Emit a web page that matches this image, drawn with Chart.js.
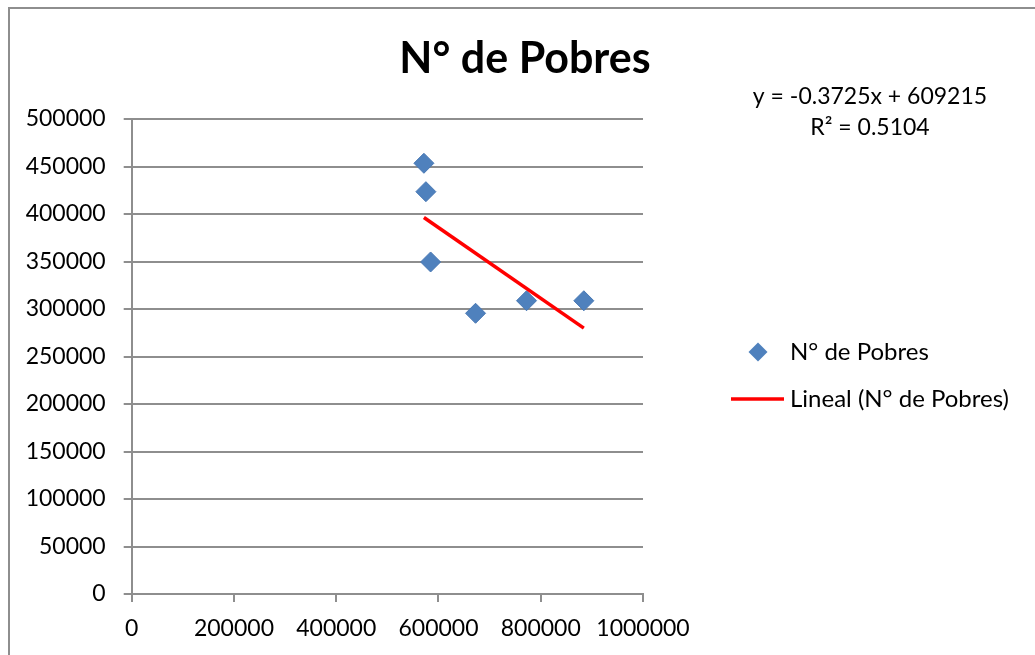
<!DOCTYPE html>
<html>
<head>
<meta charset="utf-8">
<title>N° de Pobres</title>
<script src="https://cdn.jsdelivr.net/npm/chart.js@4.4.1/dist/chart.umd.min.js"></script>
<style>
    html, body { margin: 0; padding: 0; background: #fff; }
    #wrap { width: 1035px; height: 655px; }
</style>
</head>
<body>
<div id="wrap"><canvas id="grafico" width="1035" height="655"></canvas></div>
<script>
"use strict";

const chart_title = "N° de Pobres";
const series_name = "N° de Pobres";
const trend_name = "Lineal (N° de Pobres)";

// puntos
const x_values = [571500, 575400, 584600, 672500, 772200, 884300];
const y_values = [453400, 423500, 349500, 295500, 308700, 308700];

// línea de tendencia (la que muestra Excel)
const trend_slope = -0.3725;
const trend_intercept = 609215;
const trend_r2 = 0.5104;

const x_ticks = [0, 200000, 400000, 600000, 800000, 1000000];
const y_ticks = [0, 50000, 100000, 150000, 200000, 250000, 300000, 350000, 400000, 450000, 500000];

const blue = '#4f81bd';
const red = '#ff0000';
const grid_gray = '#8e8e8e';

Chart.defaults.font.family = "Lato, 'Liberation Sans', sans-serif";
Chart.defaults.color = '#000';

let points = [];
for (let i = 0; i < x_values.length; i++) {
    points.push({ x: x_values[i], y: y_values[i] });
}

// extremos de la recta en el rango de los datos
const x_min = Math.min(...x_values);
const x_max = Math.max(...x_values);
const trend_points = [
    { x: x_min, y: trend_slope * x_min + trend_intercept },
    { x: x_max, y: trend_slope * x_max + trend_intercept }
];

// marco, título, ecuación y leyenda al estilo Excel
const excelDecor = {
    id: 'excelDecor',
    beforeDraw(chart) {
        const ctx = chart.ctx;
        ctx.save();
        ctx.fillStyle = '#fff';
        ctx.fillRect(0, 0, chart.width, chart.height);
        ctx.strokeStyle = grid_gray;
        ctx.lineWidth = 2;
        ctx.strokeRect(9, 8, 1100, 700);
        ctx.restore();
    },
    afterDraw(chart) {
        const ctx = chart.ctx;
        ctx.save();
        ctx.fillStyle = '#000';
        ctx.textBaseline = 'middle';

        ctx.textAlign = 'center';
        ctx.font = "bold 43px Lato, 'Liberation Sans', sans-serif";
        ctx.fillText(chart_title, 525, 59);

        ctx.font = "23px Lato, 'Liberation Sans', sans-serif";
        ctx.fillText("y = " + trend_slope + "x + " + trend_intercept, 870, 97);
        ctx.fillText("R² = " + trend_r2, 870, 128);

        // leyenda
        ctx.textAlign = 'left';
        ctx.font = "24px Lato, 'Liberation Sans', sans-serif";
        ctx.fillStyle = blue;
        ctx.beginPath();
        ctx.moveTo(758, 342.5);
        ctx.lineTo(767.5, 352);
        ctx.lineTo(758, 361.5);
        ctx.lineTo(748.5, 352);
        ctx.closePath();
        ctx.fill();
        ctx.fillStyle = '#000';
        ctx.fillText(series_name, 790, 352);

        ctx.strokeStyle = red;
        ctx.lineWidth = 3.5;
        ctx.beginPath();
        ctx.moveTo(731, 399);
        ctx.lineTo(784, 399);
        ctx.stroke();
        ctx.fillText(trend_name, 790, 399);
        ctx.restore();
    }
};

const ctx = document.getElementById("grafico");
const grafico = new Chart(ctx, {
    type: 'scatter',
    data: {
        datasets: [{
            label: trend_name,
            data: trend_points,
            showLine: true,
            borderColor: red,
            borderWidth: 3.5,
            pointRadius: 0,
            order: 0
        }, {
            label: series_name,
            data: points,
            pointStyle: 'rectRot',
            pointRadius: 10,
            backgroundColor: blue,
            borderColor: '#4878b4',
            borderWidth: 1,
            order: 1
        }]
    },
    options: {
        responsive: false,
        animation: false,
        layout: {
            padding: { left: 0, top: 119, right: 392, bottom: 0 }
        },
        plugins: {
            legend: { display: false },
            title: { display: false },
            tooltip: { enabled: false }
        },
        scales: {
            x: {
                type: 'linear',
                min: 0,
                max: 1000000,
                afterFit: function (scale) { scale.height = 61; },
                afterBuildTicks: function (scale) {
                    scale.ticks = x_ticks.map(v => ({ value: v }));
                },
                grid: {
                    drawOnChartArea: false,
                    drawTicks: true,
                    tickLength: 8,
                    color: grid_gray,
                    lineWidth: 2
                },
                border: { display: true, color: grid_gray, width: 2 },
                ticks: {
                    padding: 13,
                    maxRotation: 0,
                    autoSkip: false,
                    font: { size: 23 },
                    callback: v => String(v)
                }
            },
            y: {
                type: 'linear',
                min: 0,
                max: 500000,
                afterFit: function (scale) { scale.width = 131.7; },
                afterBuildTicks: function (scale) {
                    scale.ticks = y_ticks.map(v => ({ value: v }));
                },
                grid: {
                    drawTicks: true,
                    tickLength: 8,
                    color: grid_gray,
                    lineWidth: 2
                },
                border: { display: true, color: grid_gray, width: 2 },
                ticks: {
                    padding: 18,
                    autoSkip: false,
                    font: { size: 23 },
                    callback: v => String(v)
                }
            }
        }
    },
    plugins: [excelDecor]
});
</script>
</body>
</html>
